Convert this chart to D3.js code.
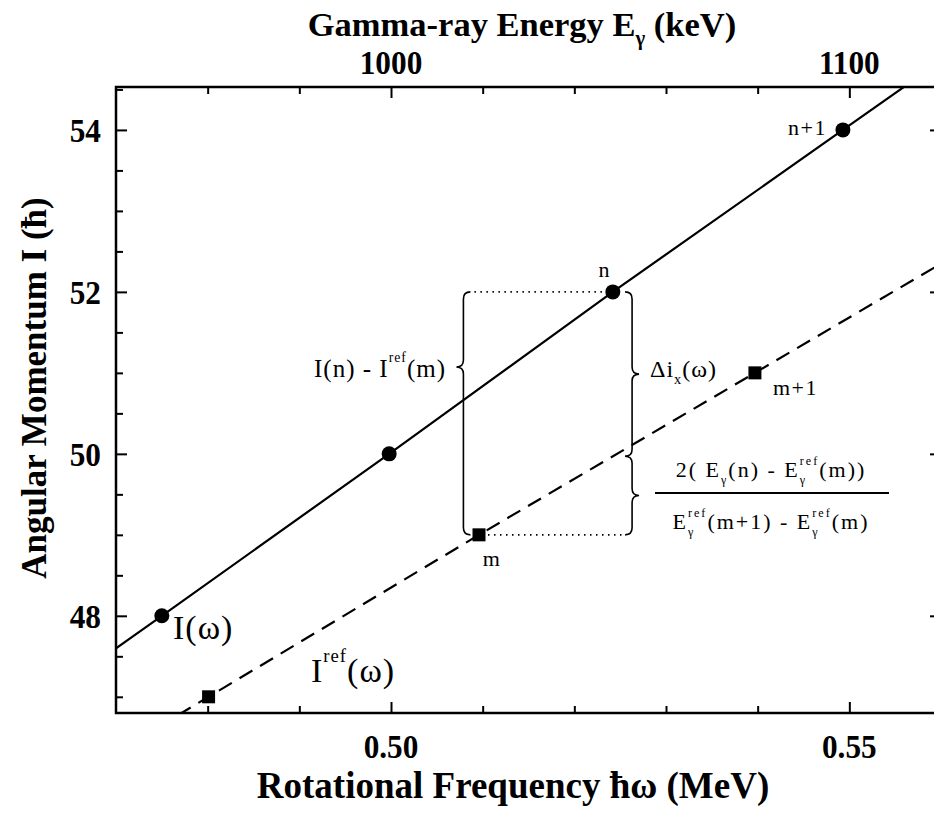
<!DOCTYPE html>
<html>
<head>
<meta charset="utf-8">
<script src="https://cdn.jsdelivr.net/npm/d3@7"></script>
<style>
  html, body { margin: 0; padding: 0; background: #fff; }
  svg { display: block; }
  text { font-family: "Liberation Serif", "Times New Roman", serif; fill: #000; white-space: pre; }
</style>
</head>
<body>
<script>
// Band I(omega): filled circles
const bandOmega = [0.4750, 0.4998, 0.5242, 0.5493];
const bandSpin  = [48, 50, 52, 54];
const bandLabels = ["", "", "n", "n+1"];

// Reference band I_ref(omega): filled squares
const refOmega = [0.4801, 0.5096, 0.5397];
const refSpin  = [47, 49, 51];
const refLabels = ["", "m", "m+1"];

// Axis ticks and labels
const omegaMajor = [0.50, 0.55];
const omegaMinor = [0.48, 0.49, 0.51, 0.52, 0.53, 0.54];
const egammaMajor = [1000, 1100];
const egammaMinor = [960, 980, 1020, 1040, 1060, 1080];
const spinMajor = [48, 50, 52, 54];
const spinMinor = [47, 47.5, 48.5, 49, 49.5, 50.5, 51, 51.5, 52.5, 53, 53.5, 54.5];

const W = 934, H = 815;
const svg = d3.select("body").append("svg").attr("width", W).attr("height", H);

const x  = d3.scaleLinear().domain([0.47, 0.56]).range([116, 941]);
const xE = d3.scaleLinear().domain([940, 1120]).range([116, 941]);
const y  = d3.scaleLinear().domain([46.8, 54.53]).range([713, 87]);

const [x0, x1] = x.range();
const [y0, y1] = y.range();

svg.append("defs").append("clipPath").attr("id", "plot")
  .append("rect").attr("x", x0).attr("y", y1).attr("width", x1 - x0).attr("height", y0 - y1);

// ---- rich text helper (sub/superscripts laid out piece by piece) ----
function rich(parent, px, py, parts, opt) {
  const size = opt.size, weight = opt.weight || "normal", sp = opt.spacing || 0;
  const g = parent.append("g");
  let cx = 0, start = 0;
  parts.forEach(p => {
    const part = typeof p === "string" ? { t: p } : p;
    const fs = size * (part.s || 1);
    const el = g.append("text")
      .attr("font-size", fs)
      .attr("font-weight", weight)
      .attr("letter-spacing", sp)
      .text(part.t);
    const w = el.node().getComputedTextLength();
    let ex;
    if (part.stack) { ex = start; cx = Math.max(cx, start + w); }
    else { ex = cx; start = cx; cx += w; }
    el.attr("x", ex).attr("y", (part.dy || 0) * size);
  });
  const off = opt.anchor === "middle" ? cx / 2 : opt.anchor === "end" ? cx : 0;
  const rot = opt.rotate ? ` rotate(${opt.rotate})` : "";
  g.attr("transform", `translate(${px},${py})${rot} translate(${-off},0)`);
  return g;
}

// ---- frame ----
svg.append("rect")
  .attr("x", x0).attr("y", y1).attr("width", x1 - x0).attr("height", y0 - y1)
  .attr("fill", "none").attr("stroke", "#000").attr("stroke-width", 2.5);

// ---- ticks (all pointing inward) ----
function ticks(axisFn, scale, values, len, translate) {
  const a = axisFn(scale).tickValues(values).tickSizeInner(-len).tickSizeOuter(0).tickFormat("");
  const g = svg.append("g").attr("transform", translate).call(a);
  g.select(".domain").remove();
  g.selectAll("line").attr("stroke", "#000").attr("stroke-width", 2);
}
ticks(d3.axisBottom, x, omegaMajor, 11, `translate(0,${y0})`);
ticks(d3.axisBottom, x, omegaMinor, 7, `translate(0,${y0})`);
ticks(d3.axisTop, xE, egammaMajor, 11, `translate(0,${y1})`);
ticks(d3.axisTop, xE, egammaMinor, 7, `translate(0,${y1})`);
ticks(d3.axisLeft, y, spinMajor, 11, `translate(${x0},0)`);
ticks(d3.axisLeft, y, spinMinor, 7, `translate(${x0},0)`);
ticks(d3.axisRight, y, spinMajor, 11, `translate(${x1},0)`);
ticks(d3.axisRight, y, spinMinor, 7, `translate(${x1},0)`);

// ---- tick labels (slightly condensed bold serif) ----
const tickFont = 34, tickSX = 0.92;
svg.append("g").selectAll("text").data(omegaMajor).join("text")
  .attr("transform", d => `translate(${x(d)},758) scale(${tickSX},1)`)
  .attr("text-anchor", "middle").attr("font-size", tickFont).attr("font-weight", "bold")
  .text(d => d3.format(".2f")(d));
svg.append("g").selectAll("text").data(egammaMajor).join("text")
  .attr("transform", d => `translate(${xE(d)},74) scale(${tickSX},1)`)
  .attr("text-anchor", "middle").attr("font-size", tickFont).attr("font-weight", "bold")
  .text(d => d);
svg.append("g").selectAll("text").data(spinMajor).join("text")
  .attr("transform", d => `translate(101,${y(d)}) scale(${tickSX},1)`)
  .attr("dy", "0.35em")
  .attr("text-anchor", "end").attr("font-size", tickFont).attr("font-weight", "bold")
  .text(d => d);

// ---- axis titles ----
rich(svg, 522, 36, ["Gamma-ray Energy E", { t: "\u03b3", s: 0.6, dy: 0.25 }, " (keV)"],
  { size: 34.5, weight: "bold", anchor: "middle" });
rich(svg, 513, 798, ["Rotational Frequency \u0127\u03c9 (MeV)"],
  { size: 37, weight: "bold", anchor: "middle" });
rich(svg, 46, 388, ["Angular Momentum I (\u0127)"],
  { size: 35, weight: "bold", anchor: "middle", rotate: -90 });

// ---- lines, extended to the frame from the end segments ----
function extended(om, sp) {
  const n = om.length;
  const s0 = (sp[1] - sp[0]) / (om[1] - om[0]);
  const sN = (sp[n - 1] - sp[n - 2]) / (om[n - 1] - om[n - 2]);
  const [dLo, dHi] = x.domain();
  const pts = om.map((o, i) => [o, sp[i]]);
  return [[dLo, sp[0] + (dLo - om[0]) * s0], ...pts, [dHi, sp[n - 1] + (dHi - om[n - 1]) * sN]];
}
const line = d3.line().x(d => x(d[0])).y(d => y(d[1]));
const plot = svg.append("g").attr("clip-path", "url(#plot)");
plot.append("path").attr("d", line(extended(bandOmega, bandSpin)))
  .attr("fill", "none").attr("stroke", "#000").attr("stroke-width", 2.2);
plot.append("path").attr("d", line(extended(refOmega, refSpin)))
  .attr("fill", "none").attr("stroke", "#000").attr("stroke-width", 2.2)
  .attr("stroke-dasharray", "15,9");

// ---- markers ----
plot.selectAll("circle").data(bandOmega).join("circle")
  .attr("cx", d => x(d)).attr("cy", (d, i) => y(bandSpin[i])).attr("r", 7.5).attr("fill", "#000");
const sq = 13;
plot.selectAll("rect.sq").data(refOmega).join("rect").attr("class", "sq")
  .attr("x", d => x(d) - sq / 2).attr("y", (d, i) => y(refSpin[i]) - sq / 2)
  .attr("width", sq).attr("height", sq).attr("fill", "#000");

// ---- point labels ----
const ann = svg.append("g");
const lblFont = 22;
const bandOff = { "n": [-8, -15, "middle"], "n+1": [-16, 5, "end"] };
bandLabels.forEach((l, i) => {
  if (!l) return;
  const o = bandOff[l];
  ann.append("text").attr("x", x(bandOmega[i]) + o[0]).attr("y", y(bandSpin[i]) + o[1])
    .attr("text-anchor", o[2]).attr("font-size", lblFont).attr("letter-spacing", 1.5).text(l);
});
const refOff = { "m": [13, 31, "middle"], "m+1": [18, 22, "start"] };
refLabels.forEach((l, i) => {
  if (!l) return;
  const o = refOff[l];
  ann.append("text").attr("x", x(refOmega[i]) + o[0]).attr("y", y(refSpin[i]) + o[1])
    .attr("text-anchor", o[2]).attr("font-size", lblFont).attr("letter-spacing", 1.5).text(l);
});

// ---- curve names ----
rich(ann, 173, 639, ["I(\u03c9)"], { size: 34, spacing: 1 });
rich(ann, 311, 682, ["I", { t: "ref", s: 0.55, dy: -0.6 }, "(\u03c9)"], { size: 34, spacing: 1 });

// ---- braces and dotted guides ----
function brace(xs, ya, yb, tipY, dir, w) {
  return `M${xs - dir * w},${ya} Q${xs},${ya} ${xs},${ya + w} L${xs},${tipY - w} ` +
         `Q${xs},${tipY} ${xs + dir * w},${tipY} Q${xs},${tipY} ${xs},${tipY + w} ` +
         `L${xs},${yb - w} Q${xs},${yb} ${xs - dir * w},${yb}`;
}
const nI = 2, mI = 1;
const yN = y(bandSpin[nI]), yM = y(refSpin[mI]);
// reference band value at the frequency of state n
const refAtN = refSpin[mI] + (bandOmega[nI] - refOmega[mI]) *
  (refSpin[mI + 1] - refSpin[mI]) / (refOmega[mI + 1] - refOmega[mI]);
const yJ = y(refAtN);
const bw = 7;
const xL = x(0.5079), xR = x(0.5263);

ann.append("path").attr("d", brace(xL, yN, yM, 367, -1, bw))
  .attr("fill", "none").attr("stroke", "#000").attr("stroke-width", 1.6);
ann.append("path").attr("d", brace(xR, yN, yJ, (yN + yJ) / 2, 1, bw))
  .attr("fill", "none").attr("stroke", "#000").attr("stroke-width", 1.6);
ann.append("path").attr("d", brace(xR, yJ, yM, (yJ + yM) / 2, 1, bw))
  .attr("fill", "none").attr("stroke", "#000").attr("stroke-width", 1.6);

ann.append("line").attr("x1", xL + bw + 4).attr("x2", x(bandOmega[nI]) - 8)
  .attr("y1", yN).attr("y2", yN)
  .attr("stroke", "#000").attr("stroke-width", 1.6).attr("stroke-dasharray", "1.5,4.5");
ann.append("line").attr("x1", x(refOmega[mI]) + 9).attr("x2", xR - bw - 2)
  .attr("y1", yM).attr("y2", yM)
  .attr("stroke", "#000").attr("stroke-width", 1.6).attr("stroke-dasharray", "1.5,4.5");

// ---- brace annotations ----
rich(ann, 446, 377, ["I(n) - I", { t: "ref", s: 0.55, dy: -0.6 }, "(m)"],
  { size: 25, anchor: "end", spacing: 1 });
rich(ann, 650, 377, ["\u0394i", { t: "x", s: 0.6, dy: 0.3 }, "(\u03c9)"],
  { size: 24, spacing: 1 });

const fracX = 771;
rich(ann, fracX, 477, ["2( E", { t: "\u03b3", s: 0.55, dy: 0.3 }, "(n) - E",
  { t: "ref", s: 0.55, dy: -0.55 }, { t: "\u03b3", s: 0.55, dy: 0.3, stack: true }, "(m))"],
  { size: 22, anchor: "middle", spacing: 2 });
ann.append("line").attr("x1", 655).attr("x2", 889).attr("y1", 493).attr("y2", 493)
  .attr("stroke", "#000").attr("stroke-width", 1.8);
rich(ann, fracX, 529, ["E", { t: "ref", s: 0.55, dy: -0.55 }, { t: "\u03b3", s: 0.55, dy: 0.3, stack: true },
  "(m+1) - E", { t: "ref", s: 0.55, dy: -0.55 }, { t: "\u03b3", s: 0.55, dy: 0.3, stack: true }, "(m)"],
  { size: 22, anchor: "middle", spacing: 2 });
</script>
</body>
</html>
